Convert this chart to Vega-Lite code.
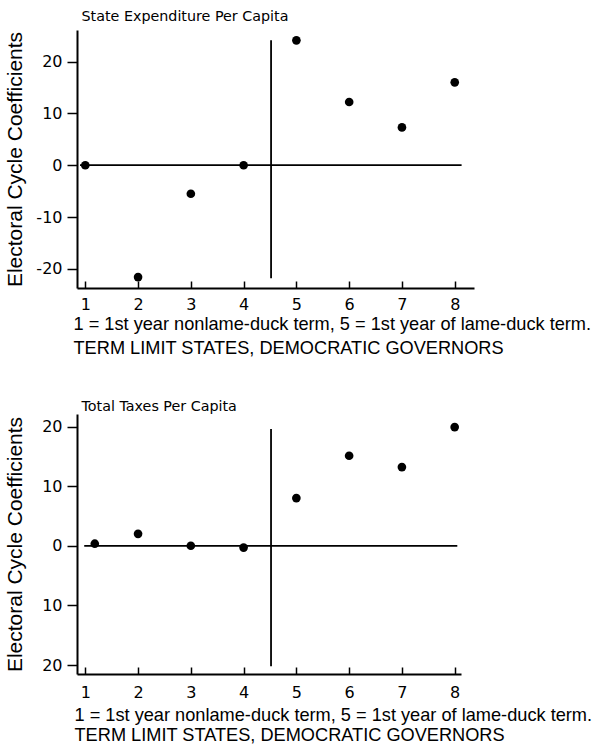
{
  "$schema": "https://vega.github.io/schema/vega-lite/v6.json",
  "padding": {"left": 4, "top": 9, "right": 0, "bottom": 0},
  "background": "white",
  "spacing": 42,
  "config": {
    "view": {"stroke": null},
    "font": "DejaVu Sans",
    "axis": {
      "grid": false,
      "domainColor": "black",
      "domainWidth": 2,
      "tickColor": "black",
      "tickWidth": 1.5,
      "labelColor": "black",
      "titleColor": "black",
      "labelFont": "DejaVu Sans",
      "labelFontSize": 16,
      "titleFontWeight": "normal"
    },
    "title": {"font": "DejaVu Sans", "fontSize": 14.3, "fontWeight": "normal", "color": "black", "anchor": "start", "frame": "group", "dx": 4.5}
  },
  "datasets": {
    "spend": [
      {"term": 1, "coef": 0},
      {"term": 2, "coef": -21.6},
      {"term": 3, "coef": -5.5},
      {"term": 4, "coef": 0},
      {"term": 5, "coef": 24.1},
      {"term": 6, "coef": 12.2},
      {"term": 7, "coef": 7.3},
      {"term": 8, "coef": 16.0}
    ],
    "taxes": [
      {"term": 1.18, "coef": 0.35},
      {"term": 2, "coef": 2.0},
      {"term": 3, "coef": 0.0},
      {"term": 4, "coef": -0.3},
      {"term": 5, "coef": 8.0},
      {"term": 6, "coef": 15.1},
      {"term": 7, "coef": 13.2},
      {"term": 8, "coef": 19.9}
    ],
    "spendRef": [
      {"kind": "zero", "x": 0.9, "x2": 8.13, "y": 0, "y2": 0},
      {"kind": "split", "x": 4.52, "x2": 4.52, "y": 24.1, "y2": -21.8}
    ],
    "taxRef": [
      {"kind": "zero", "x": 0.98, "x2": 8.05, "y": 0, "y2": 0},
      {"kind": "split", "x": 4.52, "x2": 4.52, "y": 19.6, "y2": -20.2}
    ]
  },
  "vconcat": [
    {
      "title": {"text": "State Expenditure Per Capita", "offset": 6},
      "width": 397,
      "height": 258,
      "layer": [
        {
          "data": {"name": "spendRef"},
          "mark": {"type": "rule", "color": "black", "strokeWidth": 1.8},
          "encoding": {
            "x": {"field": "x", "type": "quantitative", "scale": {"domain": [0.843, 8.365], "nice": false, "zero": false}},
            "x2": {"field": "x2"},
            "y": {"field": "y", "type": "quantitative", "scale": {"domain": [-23.7, 26.1], "nice": false, "zero": false}},
            "y2": {"field": "y2"}
          }
        },
        {
          "data": {"name": "spend"},
          "mark": {"type": "point", "filled": true, "color": "black", "size": 75, "opacity": 1},
          "encoding": {
            "x": {
              "field": "term", "type": "quantitative",
              "axis": {
                "values": [1, 2, 3, 4, 5, 6, 7, 8],
                "tickSize": -7,
                "labelPadding": 15.3,
                "title": ["1 = 1st year nonlame-duck term, 5 = 1st year of lame-duck term.", "TERM LIMIT STATES, DEMOCRATIC GOVERNORS"],
                "titleFont": "Liberation Sans",
                "titleFontSize": 18.2,
                "titleAnchor": "start",
                "titleAlign": "left",
                "titleX": -4,
                "titleLineHeight": 24,
                "titlePadding": 3.5
              }
            },
            "y": {
              "field": "coef", "type": "quantitative",
              "axis": {
                "values": [20, 10, 0, -10, -20],
                "labelExpr": "replace(datum.label, '\u2212', '-')",
                "tickSize": 10,
                "labelPadding": 5,
                "title": "Electoral Cycle Coefficients",
                "titleFont": "Liberation Sans",
                "titleFontSize": 21,
                "titlePadding": 10.5
              }
            }
          }
        }
      ]
    },
    {
      "title": {"text": "Total Taxes Per Capita", "offset": 0.2},
      "width": 384,
      "height": 260,
      "layer": [
        {
          "data": {"name": "taxRef"},
          "mark": {"type": "rule", "color": "black", "strokeWidth": 1.8},
          "encoding": {
            "x": {"field": "x", "type": "quantitative", "scale": {"domain": [0.843, 8.12], "nice": false, "zero": false}},
            "x2": {"field": "x2"},
            "y": {"field": "y", "type": "quantitative", "scale": {"domain": [-21.5, 22.1], "nice": false, "zero": false}},
            "y2": {"field": "y2"}
          }
        },
        {
          "data": {"name": "taxes"},
          "mark": {"type": "point", "filled": true, "color": "black", "size": 75, "opacity": 1},
          "encoding": {
            "x": {
              "field": "term", "type": "quantitative",
              "axis": {
                "values": [1, 2, 3, 4, 5, 6, 7, 8],
                "tickSize": -7,
                "labelPadding": 17,
                "title": ["1 = 1st year nonlame-duck term, 5 = 1st year of lame-duck term.", "TERM LIMIT STATES, DEMOCRATIC GOVERNORS"],
                "titleFont": "Liberation Sans",
                "titleFontSize": 18.2,
                "titleAnchor": "start",
                "titleAlign": "left",
                "titleX": -3,
                "titleLineHeight": 20,
                "titlePadding": 6
              }
            },
            "y": {
              "field": "coef", "type": "quantitative",
              "axis": {
                "values": [20, 10, 0, -10, -20],
                "labelExpr": "format(abs(datum.value), 'd')",
                "tickSize": 10,
                "labelPadding": 5,
                "title": "Electoral Cycle Coefficients",
                "titleFont": "Liberation Sans",
                "titleFontSize": 21,
                "titlePadding": 15.9
              }
            }
          }
        }
      ]
    }
  ]
}
